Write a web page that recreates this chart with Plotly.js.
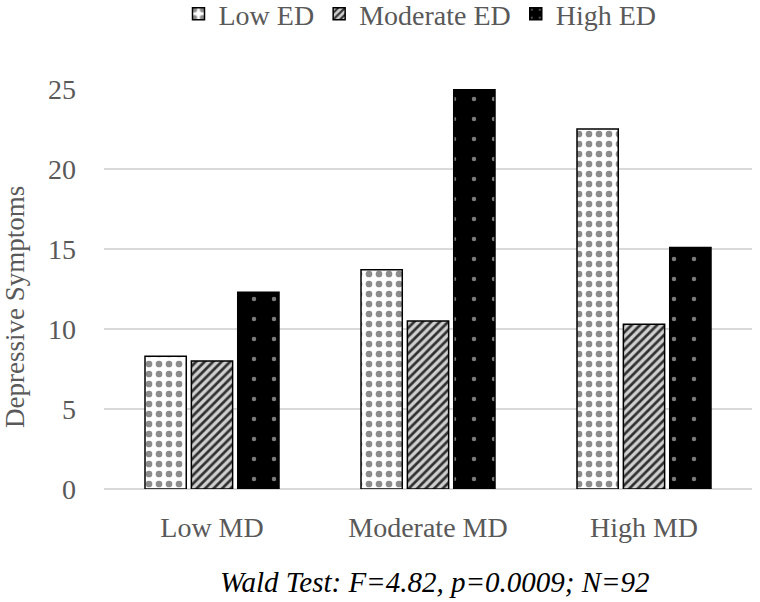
<!DOCTYPE html>
<html>
<head>
<meta charset="utf-8">
<script src="https://cdn.plot.ly/plotly-3.0.1.min.js"></script>
<style>html,body{margin:0;padding:0;background:#fff;}#chart{width:760px;height:602px;}</style>
</head>
<body>
<div id="chart"></div>
<script>
const categories = ["Low MD", "Moderate MD", "High MD"];
const seriesNames = ["Low ED", "Moderate ED", "High ED"];
const lowED = [8.3, 13.7, 22.5];
const moderateED = [8.0, 10.5, 10.3];
const highED = [12.3, 25.0, 15.1];
const yTicks = [0, 5, 10, 15, 20, 25];
const yTitle = "Depressive Symptoms";
const note = "Wald Test: F=4.82, p=0.0009; N=92";

const font = "Liberation Serif, Times New Roman, serif";
const patterns = [
  {shape: ".", bgcolor: "#ffffff", fgcolor: "#8c8c8c", size: 10, solidity: 0.35, fillmode: "replace"},
  {shape: "/", bgcolor: "#d0d0d0", fgcolor: "#303030", size: 6, solidity: 0.45, fillmode: "replace"},
  {shape: ".", bgcolor: "#000000", fgcolor: "#7a7a7a", size: 20, solidity: 0.04, fillmode: "replace"}
];
const values = [lowED, moderateED, highED];
const traces = values.map((v, i) => ({
  type: "bar",
  name: seriesNames[i],
  x: categories,
  y: v,
  marker: {color: patterns[i].bgcolor, pattern: patterns[i], line: {color: "#000", width: 1.5}},
  hoverinfo: "skip"
}));

const layout = {
  width: 760, height: 602,
  margin: {l: 104, r: 8, t: 89, b: 113},
  paper_bgcolor: "#fff", plot_bgcolor: "#fff",
  barmode: "group", bargap: 0.356, bargroupgap: 0.11,
  font: {family: font, color: "#595959", size: 28},
  showlegend: true,
  legend: {orientation: "h", xref: "paper", x: (420 - 104) / 648, xanchor: "center",
           yref: "container", y: 1 - 14 / 602, yanchor: "middle",
           font: {size: 28, color: "#595959"}, itemwidth: 30, tracegroupgap: 0},
  xaxis: {showgrid: false, showline: false, zeroline: false, ticks: "",
          tickfont: {size: 28, color: "#595959"}, ticklabelstandoff: 19},
  yaxis: {range: [0, 25], tickvals: yTicks, showgrid: true, gridcolor: "#d9d9d9", gridwidth: 1.5,
          zeroline: true, zerolinecolor: "#d9d9d9", zerolinewidth: 1.5, showline: false, ticks: "",
          tickfont: {size: 28, color: "#595959"}, ticklabelstandoff: 27},
  annotations: [
    {text: yTitle, xref: "paper", yref: "paper", x: (15 - 104) / 648, y: (489 - 307) / 400,
     xanchor: "center", yanchor: "middle", textangle: -90, showarrow: false,
     font: {size: 27, color: "#595959", family: font}},
    {text: "<i>" + note + "</i>", xref: "paper", yref: "paper", x: (435 - 104) / 648, y: (489 - 582) / 400,
     xanchor: "center", yanchor: "middle", showarrow: false,
     font: {size: 29, color: "#000", family: font}}]
};
Plotly.newPlot("chart", traces, layout, {staticPlot: true, displayModeBar: false});
</script>
</body>
</html>
